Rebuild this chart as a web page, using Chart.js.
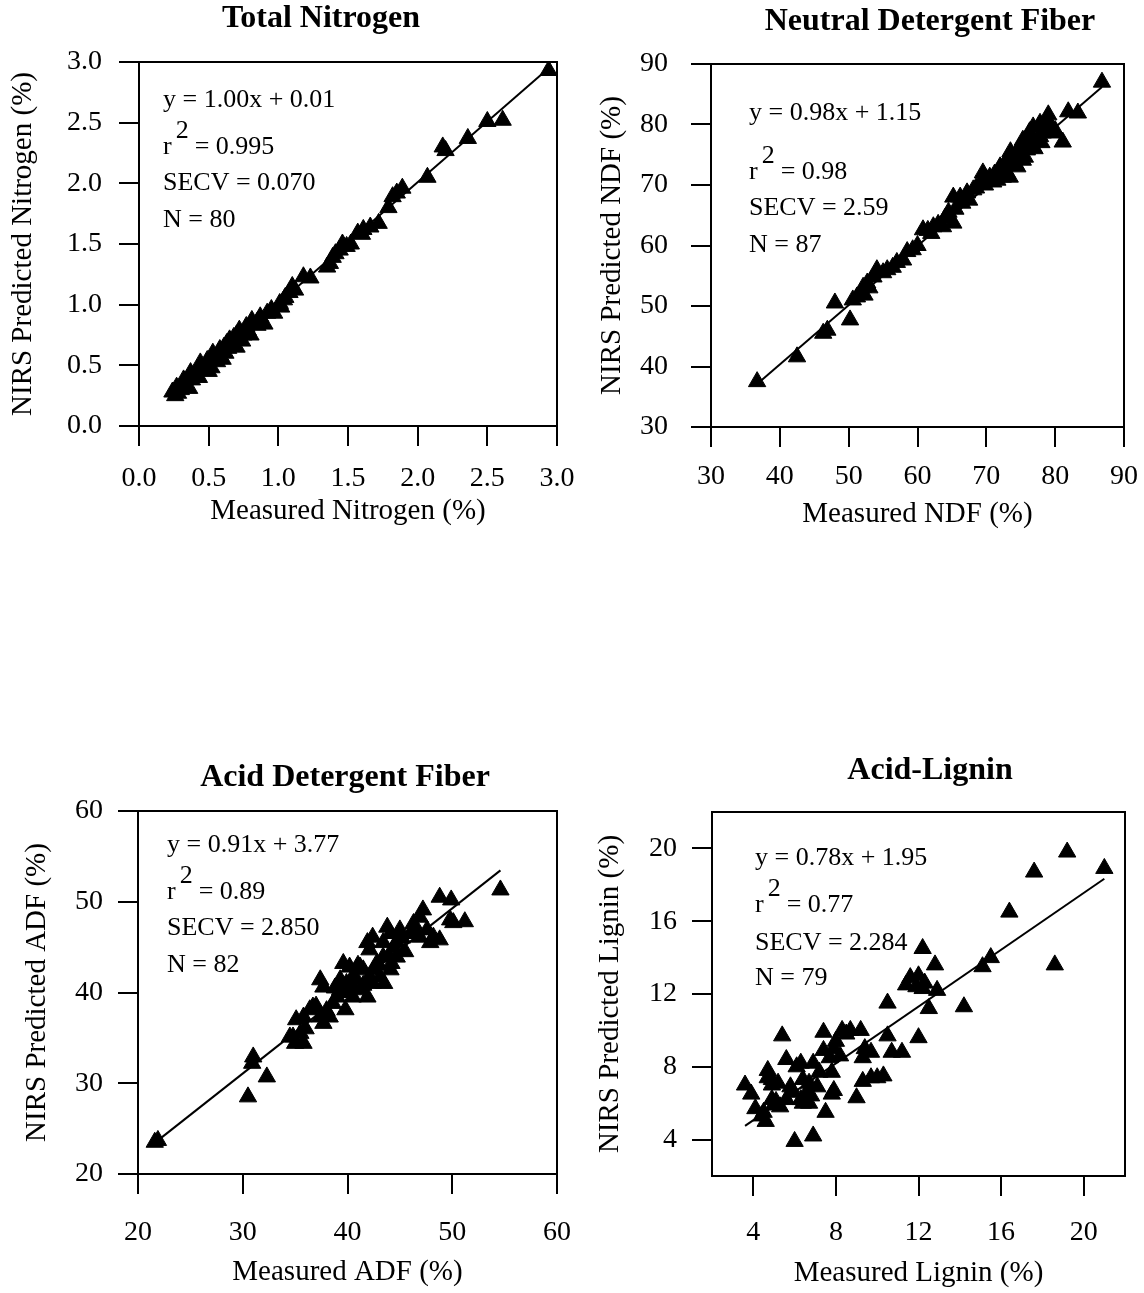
<!DOCTYPE html>
<html>
<head>
<meta charset="utf-8">
<title>NIRS calibration plots</title>
<script src="https://cdn.jsdelivr.net/npm/chart.js@4.4.1/dist/chart.umd.min.js"></script>
<style>
  html, body { margin: 0; padding: 0; background: #fff; }
  body { width: 1144px; height: 1293px; position: relative; overflow: hidden; }
  canvas { position: absolute; }
</style>
</head>
<body>
<canvas id="nitrogen" width="580" height="560" style="left:0px;top:0px"></canvas>
<canvas id="ndf" width="564" height="560" style="left:580px;top:0px"></canvas>
<canvas id="adf" width="580" height="553" style="left:0px;top:740px"></canvas>
<canvas id="lignin" width="564" height="553" style="left:580px;top:740px"></canvas>
<script>
// ---- Total nitrogen (%) ----
const nitrogenMeasured = [2.94, 2.61, 2.50, 2.36, 2.18, 2.20, 2.07, 1.89, 1.85, 1.82, 1.79, 1.72, 1.61, 1.57, 1.66, 1.49, 1.44, 1.39, 1.37, 1.35,
  1.23, 1.18, 1.10, 1.08, 1.04, 1.01, 0.92, 0.87, 0.85, 0.81, 0.77, 0.72, 0.70, 0.68, 0.65, 0.63, 0.61, 0.58, 0.53, 0.49,
  0.44, 0.42, 0.37, 0.32, 0.27, 0.24, 0.30, 0.36, 0.40, 0.45, 0.50, 0.55, 0.60, 0.66, 0.70, 0.75, 0.80, 0.85, 0.90, 0.95,
  1.05, 1.12, 1.41, 1.46, 1.52, 1.60, 0.28, 0.33, 0.38, 0.43, 0.62, 0.74, 0.78, 0.88, 0.97, 1.02, 0.26, 0.56, 0.64, 0.52];
const nitrogenPredicted = [2.93, 2.52, 2.51, 2.37, 2.30, 2.27, 2.05, 1.96, 1.92, 1.89, 1.80, 1.67, 1.62, 1.59, 1.64, 1.48, 1.45, 1.39, 1.34, 1.31,
  1.22, 1.23, 1.15, 1.10, 1.04, 1.01, 0.93, 0.90, 0.86, 0.87, 0.82, 0.79, 0.75, 0.73, 0.71, 0.68, 0.65, 0.63, 0.60, 0.54,
  0.52, 0.46, 0.44, 0.38, 0.32, 0.28, 0.30, 0.31, 0.42, 0.47, 0.45, 0.56, 0.55, 0.67, 0.65, 0.75, 0.75, 0.83, 0.84, 0.96,
  1.06, 1.12, 1.42, 1.50, 1.50, 1.58, 0.27, 0.35, 0.38, 0.40, 0.60, 0.70, 0.79, 0.85, 0.93, 0.98, 0.25, 0.53, 0.64, 0.48];
const nitrogenFit = [1.00, 0.01];          // slope, intercept
const nitrogenFitRange = [0.22, 2.96];
const nitrogenTicks = [0, 0.5, 1.0, 1.5, 2.0, 2.5, 3.0];
const nitrogenTickLabels = ['0.0', '0.5', '1.0', '1.5', '2.0', '2.5', '3.0'];
const nitrogenStats = ['y = 1.00x + 0.01', '= 0.995', 'SECV = 0.070', 'N = 80'];

// ---- Neutral detergent fiber (%) ----
const ndfMeasured = [86.8, 83.3, 81.9, 81.1, 79.0, 77.8, 76.8, 76.3, 75.3, 74.6, 73.9, 73.4, 72.4, 71.6, 70.5, 69.5, 69.1, 68.1, 67.2, 66.2,
  65.2, 65.2, 63.7, 62.3, 60.8, 59.3, 57.9, 56.4, 55.6, 54.1, 53.6, 52.7, 52.1, 51.2, 50.6, 50.2, 48.0, 46.9, 46.3, 42.5,
  36.7, 78.2, 77.4, 75.9, 75.3, 74.5, 73.4, 79.3, 79.7, 76.8, 74.9, 72.4, 71.6, 70.0, 71.0, 72.0, 73.0, 74.0, 75.0, 76.0,
  77.0, 78.0, 79.0, 80.0, 76.5, 73.5, 72.8, 71.2, 68.5, 67.5, 66.5, 64.5, 63.0, 61.5, 58.5, 57.0, 55.0, 53.0, 52.3, 62.0,
  60.0, 74.3, 77.8, 75.6, 69.8, 65.5, 64.0];
const ndfPredicted = [87.0, 81.9, 82.1, 77.1, 81.6, 80.2, 79.6, 78.8, 77.4, 75.8, 74.6, 73.6, 72.5, 72.0, 71.3, 72.0, 70.3, 69.2, 68.7, 68.0,
  68.0, 63.7, 63.1, 63.1, 62.6, 59.3, 57.6, 56.4, 56.0, 56.0, 54.8, 53.8, 53.1, 51.5, 51.0, 47.7, 50.5, 46.0, 45.5, 41.6,
  37.5, 78.6, 77.4, 75.8, 74.1, 73.0, 71.3, 79.1, 78.6, 76.3, 76.3, 71.3, 70.8, 71.0, 70.5, 73.0, 72.0, 74.5, 75.0, 76.5,
  76.0, 77.0, 80.5, 79.0, 78.0, 75.5, 73.8, 71.8, 69.5, 67.5, 67.0, 65.5, 63.5, 62.5, 59.0, 57.2, 55.5, 53.0, 51.8, 62.0,
  60.0, 73.3, 78.0, 74.6, 70.0, 66.0, 64.5];
const ndfFit = [0.98, 1.15];
const ndfFitRange = [36.7, 86.8];
const ndfTicks = [30, 40, 50, 60, 70, 80, 90];
const ndfTickLabels = ['30', '40', '50', '60', '70', '80', '90'];
const ndfStats = ['y = 0.98x + 1.15', '= 0.98', 'SECV = 2.59', 'N = 87'];

// ---- Acid detergent fiber (%) ----
const adfMeasured = [21.9, 21.6, 30.5, 32.3, 31.0, 30.9, 35.0, 34.5, 35.8, 35.1, 36.4, 35.8, 37.7, 38.3, 37.4, 37.7, 37.4, 39.8, 39.6, 39.3,
  39.9, 40.5, 41.2, 41.9, 41.5, 41.9, 42.1, 42.4, 42.8, 43.1, 43.4, 43.8, 44.1, 44.4, 44.7, 45.0, 46.0, 46.9, 47.2, 46.9,
  47.9, 48.8, 48.8, 49.9, 49.8, 51.2, 54.6, 44.1, 46.4, 39.3, 40.5, 38.6, 43.4, 44.7, 46.3, 47.6, 48.2, 50.1, 41.2, 42.1,
  42.4, 40.5, 34.8, 36.7, 38.0, 39.0, 40.0, 40.8, 41.5, 42.5, 43.0, 44.0, 45.5, 43.5, 41.0, 40.2, 36.0, 37.0, 35.5, 38.8,
  45.2, 44.2];
const adfPredicted = [23.7, 23.5, 28.5, 30.7, 32.9, 32.2, 34.4, 35.1, 34.4, 37.0, 38.1, 37.3, 36.6, 37.3, 37.3, 40.6, 41.4, 38.1, 43.2, 41.4,
  41.0, 41.7, 40.3, 39.5, 42.5, 45.5, 44.7, 46.1, 43.2, 41.7, 43.9, 47.2, 42.5, 45.0, 43.9, 46.9, 46.5, 48.3, 49.1, 46.1,
  45.5, 45.8, 50.5, 50.2, 48.0, 47.8, 51.3, 46.5, 46.6, 40.3, 39.5, 38.8, 45.5, 45.5, 47.6, 46.9, 46.1, 47.7, 42.8, 41.7,
  41.0, 40.6, 35.1, 38.4, 38.0, 39.5, 40.0, 41.5, 40.8, 42.5, 43.0, 44.0, 44.5, 41.0, 43.0, 42.8, 36.0, 38.5, 35.5, 40.5,
  46.0, 43.2];
const adfFit = [0.91, 3.77];
const adfFitRange = [21.6, 54.6];
const adfTicks = [20, 30, 40, 50, 60];
const adfTickLabels = ['20', '30', '40', '50', '60'];
const adfStats = ['y = 0.91x + 3.77', '= 0.89', 'SECV = 2.850', 'N = 82'];

// ---- Acid-lignin (%) ----
const ligninMeasured = [19.2, 21.0, 17.6, 16.4, 18.6, 15.5, 15.1, 12.2, 12.8, 11.6, 12.0, 11.4, 12.2, 12.9, 12.5, 14.2, 10.5, 12.0, 10.5, 10.7,
  11.2, 9.2, 8.7, 8.3, 7.4, 8.0, 7.9, 7.4, 7.7, 9.4, 9.3, 9.7, 10.3, 10.0, 9.7, 9.3, 9.0, 7.8, 7.9, 7.8,
  7.5, 6.9, 6.0, 5.4, 5.6, 6.3, 6.9, 6.4, 6.7, 7.1, 6.6, 6.3, 5.9, 5.8, 5.6, 6.4, 6.7, 4.7, 4.9, 4.9,
  5.2, 4.7, 5.1, 5.3, 4.9, 3.6, 3.9, 4.1, 4.4, 4.6, 4.5, 12.3, 11.9, 6.1, 8.2, 5.0, 7.2, 6.8, 8.5];
const ligninPredicted = [19.8, 18.9, 18.7, 16.5, 13.6, 14.0, 13.5, 14.5, 13.6, 12.9, 13.0, 12.5, 12.3, 12.2, 11.2, 11.3, 11.5, 9.6, 9.7, 8.8,
  8.8, 10.0, 10.0, 10.0, 9.9, 9.4, 9.0, 8.9, 8.5, 9.0, 8.5, 8.8, 7.5, 7.4, 7.4, 7.2, 6.3, 7.7, 6.7, 6.5,
  5.5, 4.2, 3.9, 9.7, 8.4, 8.2, 8.2, 7.3, 7.1, 6.9, 6.6, 6.2, 6.6, 6.9, 6.2, 6.0, 6.0, 7.8, 7.3, 7.0,
  7.1, 7.4, 6.1, 5.8, 6.2, 7.0, 6.5, 5.7, 5.3, 5.0, 5.5, 12.6, 12.4, 8.0, 8.6, 5.9, 7.7, 6.4, 9.8];
const ligninFit = [0.78, 1.95];
const ligninFitRange = [3.6, 21.0];
const ligninTicks = [4, 8, 12, 16, 20];
const ligninTickLabels = ['4', '8', '12', '16', '20'];
const ligninStats = ['y = 0.78x + 1.95', '= 0.77', 'SECV = 2.284', 'N = 79'];

const FONT = "'Liberation Serif', 'Times New Roman', serif";
Chart.defaults.font.family = FONT;
Chart.defaults.color = '#000';

// Box around the plotting area
const framePlugin = {
  id: 'frame',
  afterDatasetsDraw(chart) {
    const { ctx, chartArea: a } = chart;
    ctx.save();
    ctx.strokeStyle = '#000';
    ctx.lineWidth = 2;
    ctx.strokeRect(a.left, a.top, a.right - a.left, a.bottom - a.top);
    ctx.restore();
  }
};

// Regression summary written inside the plot
const statsPlugin = {
  id: 'stats',
  beforeDatasetsDraw(chart, args, opts) {
    const { ctx, chartArea: a } = chart;
    const [eq, r2, secv, n] = opts.lines;
    const x = a.left + opts.dx;
    ctx.save();
    ctx.font = opts.size + 'px ' + FONT;
    ctx.fillStyle = '#000';
    ctx.textAlign = 'left';
    ctx.textBaseline = 'middle';
    ctx.fillText(eq, x, a.top + opts.rows[0]);
    const yR = a.top + opts.rows[1];
    ctx.fillText('r', x, yR);
    const xs = x + ctx.measureText('r').width + 4;
    ctx.fillText('2', xs, yR - opts.sup);
    ctx.fillText(r2, xs + ctx.measureText('2').width + 6, yR);
    ctx.fillText(secv, x, a.top + opts.rows[2]);
    ctx.fillText(n, x, a.top + opts.rows[3]);
    ctx.restore();
  }
};

// Horizontal offset for the panel heading
const titleShiftPlugin = {
  id: 'titleShift',
  afterLayout(chart, args, opts) {
    const t = chart.titleBlock;
    if (t && opts.dx) { t.left += opts.dx; t.right += opts.dx; }
  }
};

function makePanel(p) {
  const points = p.measured.map((m, i) => ({ x: m, y: p.predicted[i] }));
  const fitLine = p.fitRange.map(v => ({ x: v, y: p.fit[0] * v + p.fit[1] }));
  const axisBase = (ticks, labels, min, max) => ({
    type: 'linear', min: min, max: max,
    afterBuildTicks: s => { s.ticks = ticks.map(v => ({ value: v })); },
    border: { display: false },
    grid: { display: true, drawOnChartArea: false, drawTicks: true, tickLength: 20, tickWidth: 2, tickColor: '#000', lineWidth: 2, color: '#000' },
    ticks: { autoSkip: false, maxRotation: 0, minRotation: 0, color: '#000', font: { size: 28 }, callback: (v, i) => labels[i] }
  });
  const L = p.layout;
  const xScale = axisBase(p.ticks, p.tickLabels, p.min, p.max);
  xScale.position = 'bottom';
  xScale.ticks.padding = L.xTickPad;
  xScale.afterFit = s => { s.height = L.xH; s.paddingLeft = 0; s.paddingRight = 0; };
  xScale.title = { display: true, text: p.xTitle, color: '#000', font: { size: 29 }, padding: { top: 0, bottom: L.xTitlePad } };
  const yScale = axisBase(p.ticks, p.tickLabels, p.min, p.max);
  yScale.position = 'left';
  yScale.ticks.padding = L.yTickPad;
  yScale.afterFit = s => { s.width = L.yW; s.paddingTop = 0; s.paddingBottom = 0; };
  yScale.title = { display: true, text: p.yTitle, color: '#000', font: { size: 29 }, padding: { top: L.yTitlePad, bottom: 0 } };

  return new Chart(document.getElementById(p.id), {
    type: 'scatter',
    data: {
      datasets: [
        { type: 'line', data: fitLine, borderColor: '#000', borderWidth: 2, pointRadius: 0, fill: false, tension: 0 },
        { data: points, pointStyle: 'triangle', pointRadius: 10, pointBackgroundColor: '#000', pointBorderColor: '#000', pointBorderWidth: 1 }
      ]
    },
    options: {
      responsive: false,
      animation: false,
      devicePixelRatio: 1,
      layout: { padding: { left: 0, right: L.padR, top: 0, bottom: 0 } },
      scales: { x: xScale, y: yScale },
      plugins: {
        legend: { display: false },
        tooltip: { enabled: false },
        title: { display: true, text: p.title, color: '#000', font: { size: 32, weight: 'bold' }, padding: { top: L.titleTop, bottom: L.titleBottom } },
        titleShift: { dx: L.titleDx },
        stats: { lines: p.stats, size: 26, dx: L.statsDx, rows: L.statsRows, sup: 16 }
      }
    },
    plugins: [framePlugin, statsPlugin, titleShiftPlugin]
  });
}

makePanel({
  id: 'nitrogen', title: 'Total Nitrogen', xTitle: 'Measured Nitrogen (%)', yTitle: 'NIRS Predicted Nitrogen (%)',
  measured: nitrogenMeasured, predicted: nitrogenPredicted, fit: nitrogenFit, fitRange: nitrogenFitRange,
  ticks: nitrogenTicks, tickLabels: nitrogenTickLabels, stats: nitrogenStats, min: 0, max: 3,
  layout: { padR: 23, titleTop: 0, titleBottom: 23.6, titleDx: 42.5, yW: 139, yTickPad: 17, yTitlePad: 5.6,
            xH: 134, xTickPad: 16, xTitlePad: 31.6, statsDx: 24, statsRows: [38, 85, 121, 158] }
});
makePanel({
  id: 'ndf', title: 'Neutral Detergent Fiber', xTitle: 'Measured NDF (%)', yTitle: 'NIRS Predicted NDF (%)',
  measured: ndfMeasured, predicted: ndfPredicted, fit: ndfFit, fitRange: ndfFitRange,
  ticks: ndfTicks, tickLabels: ndfTickLabels, stats: ndfStats, min: 30, max: 90,
  layout: { padR: 20, titleTop: 2.8, titleBottom: 22.8, titleDx: 78, yW: 131, yTickPad: 23, yTitlePad: 14.6,
            xH: 133, xTickPad: 13, xTitlePad: 28.6, statsDx: 38, statsRows: [49, 108, 144, 181] }
});
makePanel({
  id: 'adf', title: 'Acid Detergent Fiber', xTitle: 'Measured ADF (%)', yTitle: 'NIRS Predicted ADF (%)',
  measured: adfMeasured, predicted: adfPredicted, fit: adfFit, fitRange: adfFitRange,
  ticks: adfTicks, tickLabels: adfTickLabels, stats: adfStats, min: 20, max: 60,
  layout: { padR: 23, titleTop: 18.8, titleBottom: 13.8, titleDx: 66.5, yW: 138, yTickPad: 15, yTitlePad: 19.6,
            xH: 119, xTickPad: 22, xTitlePad: 3.6, statsDx: 29, statsRows: [34, 81, 117, 154] }
});
makePanel({
  id: 'lignin', title: 'Acid-Lignin', xTitle: 'Measured Lignin (%)', yTitle: 'NIRS Predicted Lignin (%)',
  measured: ligninMeasured, predicted: ligninPredicted, fit: ligninFit, fitRange: ligninFitRange,
  ticks: ligninTicks, tickLabels: ligninTickLabels, stats: ligninStats, min: 2, max: 22,
  layout: { padR: 19, titleTop: 11.8, titleBottom: 21.8, titleDx: 77.5, yW: 132, yTickPad: 15, yTitlePad: 12.6,
            xH: 117, xTickPad: 20, xTitlePad: 2.6, statsDx: 43, statsRows: [46, 93, 131, 166] }
});
</script>
</body>
</html>
